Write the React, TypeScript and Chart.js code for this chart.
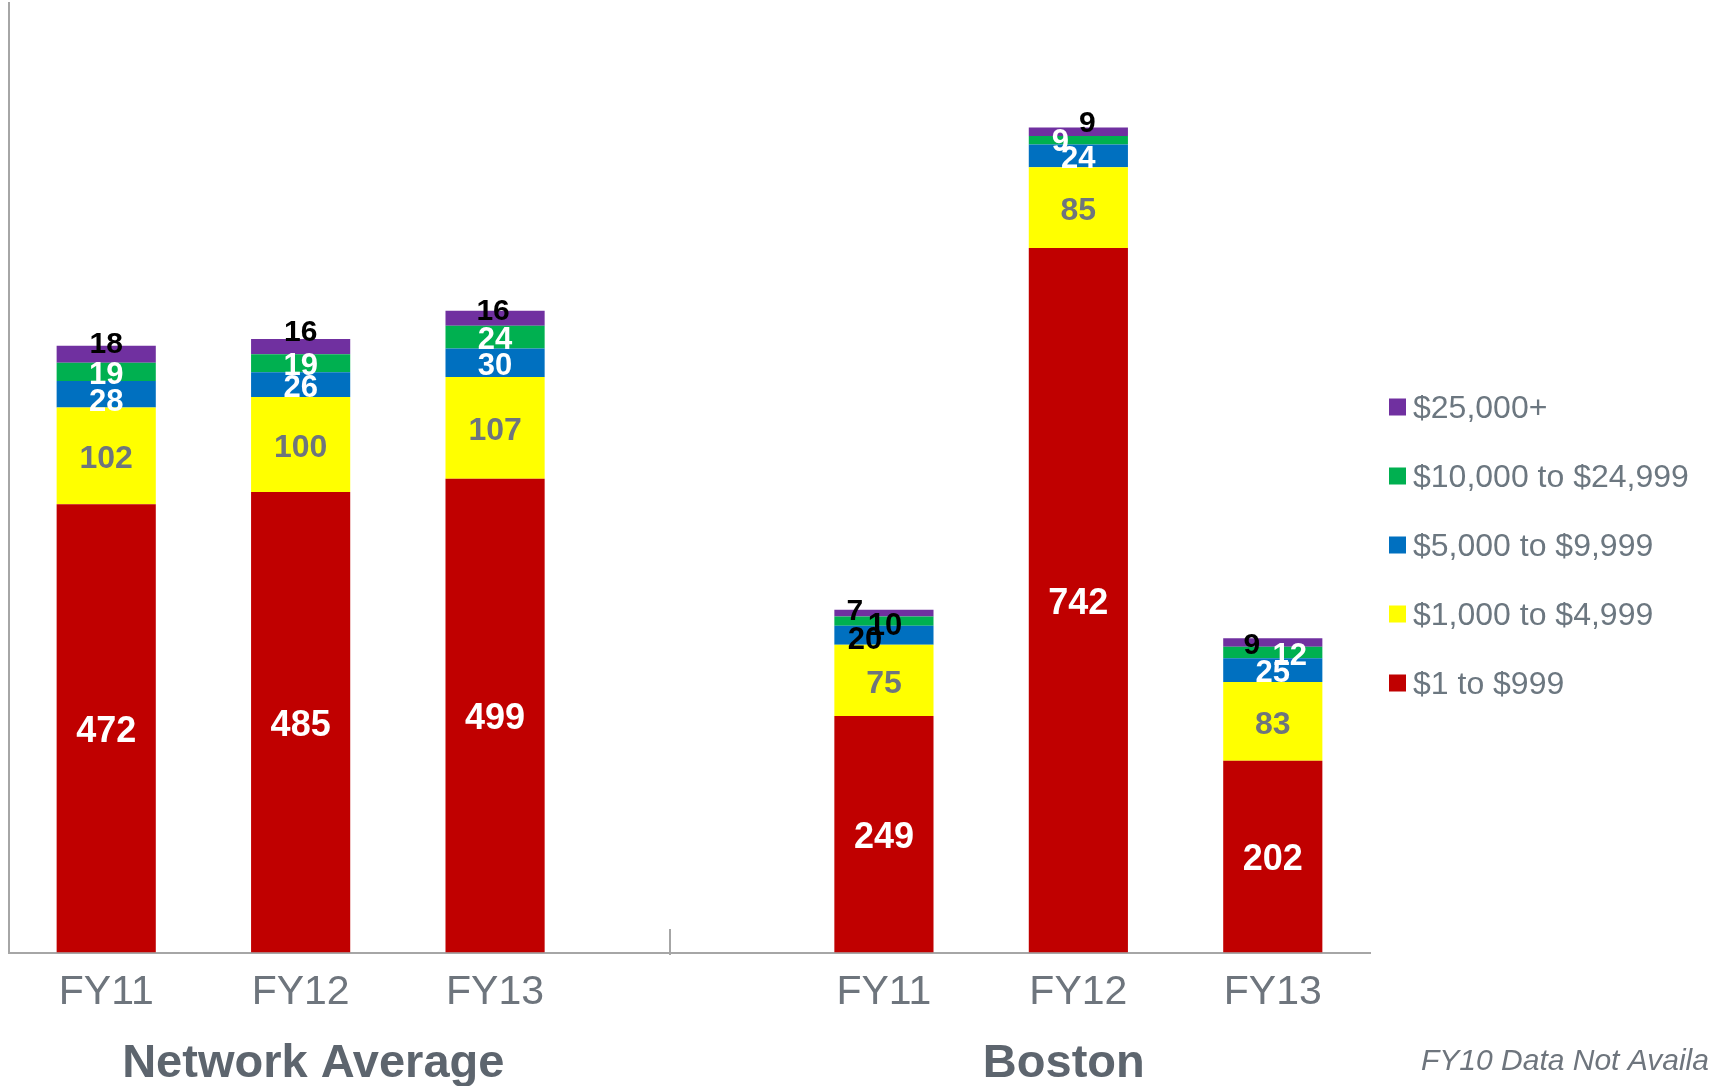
import React, { useEffect, useRef } from 'react';
import { Chart, registerables } from 'chart.js';

Chart.register(...registerables);

// ---------- data ----------
const categories = ['FY11', 'FY12', 'FY13', '', 'FY11', 'FY12', 'FY13'];
const groupNames = ['Network Average', 'Boston'];
const seriesNames = ['$1 to $999', '$1,000 to $4,999', '$5,000 to $9,999', '$10,000 to $24,999', '$25,000+'];
const tier1 = [472, 485, 499, null, 249, 742, 202];
const tier2 = [102, 100, 107, null, 75, 85, 83];
const tier3 = [28, 26, 30, null, 20, 24, 25];
const tier4 = [19, 19, 24, null, 10, 9, 12];
const tier5 = [18, 16, 16, null, 7, 9, 9];
const footnote = 'FY10 Data Not Available';

// ---------- styles ----------
const FONT = '"Liberation Sans", Arial, Helvetica, sans-serif';
const seriesColors = ['#c00000', '#ffff00', '#0070c0', '#00b050', '#7030a0'];
const labelColors = ['#ffffff', '#6e757d', '#ffffff', '#ffffff', '#000000'];
const labelSizes = [36, 32, 31, 31, 30];
const gray = '#6e757d';
const axisColor = '#a6a6a6';
const labelBaseShift = 3.5;
// label nudges "dataset-index": [dx, dy, colorOverride]
const labelNudges: Record<string, [number, number, string | null]> = {
  '2-0': [0, 5, null],
  '4-0': [0, -13, null],
  '4-1': [0, -17.5, null],
  '4-2': [-2, -10, null],
  '2-4': [-19, 2, '#000000'],
  '3-4': [1, 1.5, '#000000'],
  '4-4': [-29, -4.5, null],
  '4-5': [9, -11.7, null],
  '3-5': [-18, -1, null],
  '3-6': [17, 0, null],
  '4-6': [-21, 0, null],
};
const groupCenters = [1.065, 4.925];
const dividerAt = 2.9;

const overlayPlugin = {
  id: 'overlay',
  afterDatasetsDraw(chart: any) {
    const ctx = chart.ctx;
    ctx.save();
    ctx.textAlign = 'center';
    ctx.textBaseline = 'middle';
    chart.data.datasets.forEach((ds: any, di: number) => {
      const meta = chart.getDatasetMeta(di);
      meta.data.forEach((el: any, i: number) => {
        const v = ds.data[i];
        if (v == null) return;
        const p = el.getProps(['x', 'y', 'base'], true);
        const n = labelNudges[`${di}-${i}`] || [0, 0, null];
        ctx.font = `bold ${labelSizes[di]}px ${FONT}`;
        ctx.fillStyle = n[2] || labelColors[di];
        ctx.fillText(String(v), p.x + n[0], (p.y + p.base) / 2 + n[1] + labelBaseShift);
      });
    });
    ctx.restore();
  },
  afterDraw(chart: any) {
    const ctx = chart.ctx;
    const xs = chart.scales.x;
    const bottom = chart.chartArea.bottom;
    ctx.save();
    // divider tick
    const dx = Math.round(xs.getPixelForValue(dividerAt));
    ctx.strokeStyle = axisColor;
    ctx.lineWidth = 2;
    ctx.beginPath();
    ctx.moveTo(dx, bottom - 23.5);
    ctx.lineTo(dx, bottom + 2.5);
    ctx.stroke();
    // group labels
    ctx.fillStyle = '#5d656e';
    ctx.font = `bold 47px ${FONT}`;
    ctx.textAlign = 'center';
    ctx.textBaseline = 'alphabetic';
    groupNames.forEach((g, k) => {
      ctx.fillText(g, xs.getPixelForValue(groupCenters[k]), 1077);
    });
    // footnote
    ctx.font = `italic 30px ${FONT}`;
    ctx.fillStyle = gray;
    ctx.textAlign = 'left';
    ctx.fillText(footnote, 1421, 1070);
    // legend
    const n = chart.data.datasets.length;
    const spacing = 69;
    const cy = 545;
    ctx.font = `32px ${FONT}`;
    ctx.textBaseline = 'middle';
    for (let k = 0; k < n; k++) {
      const di = n - 1 - k;
      const y = cy + (k - (n - 1) / 2) * spacing;
      ctx.fillStyle = chart.data.datasets[di].backgroundColor;
      ctx.fillRect(1389, y - 8.5, 17, 17);
      ctx.fillStyle = '#6c7780';
      ctx.fillText(chart.data.datasets[di].label, 1413, y + 2);
    }
    ctx.restore();
  },
};

export default function App() {
  const ref = useRef<HTMLCanvasElement | null>(null);
  useEffect(() => {
    if (!ref.current) return;
    const series = [tier1, tier2, tier3, tier4, tier5];
    const chart = new Chart(ref.current, {
      type: 'bar',
      data: {
        labels: categories,
        datasets: series.map((d, i) => ({
          label: seriesNames[i],
          data: d,
          backgroundColor: seriesColors[i],
          borderWidth: 0,
          barPercentage: 0.51,
          categoryPercentage: 1.0,
        })),
      },
      options: {
        responsive: false,
        animation: false,
        devicePixelRatio: 1,
        layout: { padding: { left: 9, right: 339, top: 3, bottom: 0 } },
        plugins: { legend: { display: false }, tooltip: { enabled: false } },
        scales: {
          x: {
            stacked: true,
            grid: { display: false, drawTicks: false, tickLength: 0 },
            border: { display: true, color: axisColor, width: 2 },
            ticks: { color: gray, font: { family: FONT, size: 41 }, padding: 16, maxRotation: 0, autoSkip: false },
            afterFit: (s: any) => { s.height = 133.5; },
          },
          y: {
            stacked: true,
            min: 0,
            max: 1000,
            grid: { display: false, drawTicks: false, tickLength: 0 },
            border: { display: true, color: axisColor, width: 2 },
            ticks: { display: false },
            afterFit: (s: any) => { s.width = 0; },
          },
        },
      },
      plugins: [overlayPlugin],
    });
    return () => chart.destroy();
  }, []);
  return (
    <div style={{ position: 'fixed', left: 0, top: 0, width: 1709, height: 1086, background: '#fff' }}>
      <canvas ref={ref} width={1709} height={1086} style={{ width: 1709, height: 1086, display: 'block' }} />
    </div>
  );
}
